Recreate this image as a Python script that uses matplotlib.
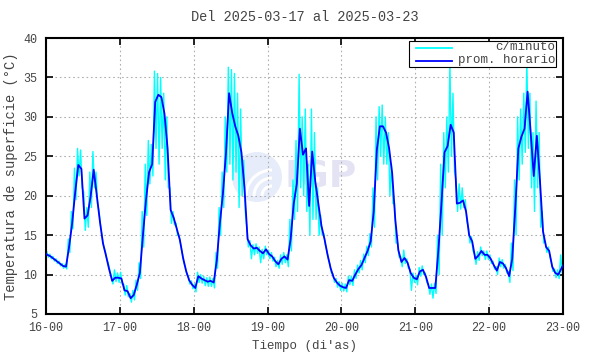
import numpy as np
import matplotlib
matplotlib.use("Agg")
import matplotlib.pyplot as plt
from matplotlib.patches import Rectangle, Circle, Arc
from matplotlib.lines import Line2D

plt.rcParams['font.family'] = ['Liberation Mono', 'DejaVu Sans Mono']

# promedio horario (valor centrado en hh:30), un dia por lista
h16 = [12.5, 12.3, 12.0, 11.7, 11.4, 11.1, 11.0, 13.5, 16.5, 20.5, 23.9, 23.4,
       17.1, 17.5, 19.9, 23.3, 20.0, 16.8, 14.0, 12.4, 10.7, 9.2, 9.6, 9.6]
h17 = [9.5, 8.0, 7.9, 7.0, 7.4, 8.7, 10.2, 15.0, 19.5, 23.0, 24.0, 31.9,
       32.8, 32.5, 30.4, 26.0, 18.2, 17.2, 15.8, 14.4, 12.2, 10.5, 9.3, 8.7]
h18 = [8.3, 9.8, 9.5, 9.3, 9.1, 9.2, 9.0, 11.8, 16.5, 20.3, 25.5, 33.0,
       30.5, 28.8, 27.6, 25.5, 21.0, 14.5, 13.7, 13.3, 13.4, 13.0, 12.7, 13.2]
h19 = [12.6, 12.3, 11.7, 11.3, 12.0, 12.3, 11.9, 14.5, 19.0, 21.5, 28.5, 25.2,
       26.0, 18.7, 25.6, 21.8, 19.0, 16.2, 14.5, 12.5, 10.8, 9.6, 9.0, 8.6]
h20 = [8.4, 8.3, 9.3, 9.2, 10.0, 10.7, 11.2, 12.1, 13.0, 14.2, 18.0, 25.8,
       28.8, 28.8, 28.0, 26.0, 22.8, 17.0, 13.1, 11.6, 12.1, 11.5, 10.2, 9.6]
h21 = [9.4, 10.4, 10.6, 9.7, 8.3, 8.3, 8.3, 13.0, 19.0, 25.5, 26.3, 29.0,
       28.0, 19.0, 19.1, 19.4, 18.0, 15.0, 14.2, 12.0, 12.4, 13.0, 12.5, 12.5]
h22 = [12.0, 11.2, 10.5, 11.6, 11.4, 10.8, 9.8, 12.0, 18.5, 26.0, 27.5, 28.5,
       33.2, 28.0, 22.5, 27.6, 22.0, 15.5, 13.5, 13.0, 11.0, 10.2, 10.0, 10.8]
h_prev = 12.7   # 15 23:30
h_next = 11.5   # 23 00:30

# datos por minuto: maximo y minimo dentro de cada hora
max16 = [12.9, 12.6, 12.3, 12.0, 11.7, 11.4, 11.3, 14.5, 18.0, 23.5, 26.0, 25.8,
         20.5, 18.5, 23.0, 25.6, 23.0, 18.0, 14.8, 13.0, 11.4, 9.8, 10.6, 10.2]
min16 = [12.2, 12.0, 11.7, 11.4, 11.1, 10.8, 10.7, 12.8, 15.8, 19.5, 22.5, 21.0,
         15.6, 16.0, 18.5, 21.0, 19.0, 16.0, 13.5, 12.0, 10.5, 8.8, 9.1, 9.0]
max17 = [10.3, 8.8, 8.6, 7.6, 8.0, 9.3, 11.5, 18.0, 24.0, 27.0, 26.5, 35.8,
         35.5, 35.0, 33.0, 30.0, 21.0, 18.0, 16.5, 15.0, 12.8, 11.0, 9.8, 9.2]
min17 = [8.8, 7.4, 7.2, 6.5, 6.8, 8.0, 9.5, 13.5, 17.5, 21.5, 22.5, 26.0,
         24.0, 26.0, 22.0, 21.0, 16.5, 16.3, 15.0, 13.8, 11.5, 10.0, 8.8, 8.2]
max18 = [8.8, 10.3, 10.0, 9.8, 9.6, 9.7, 9.5, 12.8, 18.5, 23.0, 30.0, 36.3,
         36.0, 35.5, 33.0, 31.0, 24.5, 16.0, 14.3, 13.8, 13.9, 13.5, 13.2, 13.6]
min18 = [7.8, 9.0, 8.9, 8.6, 8.5, 8.5, 8.3, 10.8, 15.0, 18.5, 23.0, 24.0,
         22.0, 23.0, 18.5, 20.0, 18.0, 13.5, 12.0, 12.5, 12.7, 11.5, 12.0, 12.5]
max19 = [13.1, 12.8, 12.2, 11.8, 12.5, 12.8, 12.5, 17.0, 22.0, 27.0, 35.4, 30.0,
         31.0, 24.0, 31.0, 28.0, 21.0, 17.5, 15.2, 13.0, 11.3, 10.1, 9.5, 9.1]
min19 = [12.0, 11.7, 11.0, 10.8, 11.3, 11.5, 11.0, 13.0, 17.0, 18.0, 21.0, 20.0,
         18.0, 15.0, 17.0, 17.0, 15.0, 15.0, 13.8, 12.0, 10.2, 9.0, 8.4, 8.0]
max20 = [8.9, 8.8, 9.8, 9.8, 10.6, 11.2, 11.8, 12.6, 13.6, 15.2, 21.0, 30.0,
         31.3, 31.5, 30.0, 28.0, 24.0, 19.0, 14.0, 12.3, 13.1, 12.0, 10.7, 10.2]
min20 = [7.9, 7.8, 8.7, 8.6, 9.5, 10.2, 10.6, 11.5, 12.4, 13.5, 16.0, 22.0,
         25.0, 24.0, 24.0, 20.0, 19.0, 14.0, 12.2, 11.0, 11.4, 10.8, 8.0, 9.0]
max21 = [9.9, 10.9, 11.1, 10.2, 8.8, 8.8, 8.9, 15.0, 24.0, 28.0, 30.0, 36.8,
         33.0, 22.0, 21.5, 21.0, 19.5, 16.0, 14.8, 12.6, 12.9, 13.5, 13.0, 13.0]
min21 = [8.7, 9.8, 10.0, 9.0, 7.5, 7.0, 7.6, 10.0, 15.0, 21.0, 23.0, 25.0,
         23.0, 18.0, 18.3, 18.5, 16.8, 14.0, 13.0, 11.3, 11.8, 12.4, 11.9, 11.9]
max22 = [12.5, 11.7, 11.0, 12.1, 11.9, 11.3, 10.4, 14.0, 22.0, 30.0, 31.0, 33.0,
         37.0, 33.0, 28.0, 32.0, 28.0, 18.0, 14.2, 13.5, 11.5, 10.7, 10.6, 12.5]
min22 = [11.4, 10.7, 10.0, 11.0, 10.8, 10.2, 9.0, 10.5, 15.0, 22.0, 24.0, 25.5,
         26.0, 21.0, 18.0, 21.0, 16.0, 14.0, 12.8, 12.3, 10.4, 9.6, 9.5, 10.2]

day_labels = ['16-00', '17-00', '18-00', '19-00', '20-00', '21-00', '22-00', '23-00']

hourly = [h_prev] + h16 + h17 + h18 + h19 + h20 + h21 + h22 + [h_next]
t_hour = (np.arange(len(hourly)) - 0.5) / 24.0

mx = np.array(max16 + max17 + max18 + max19 + max20 + max21 + max22)
mn = np.array(min16 + min17 + min18 + min19 + min20 + min21 + min22)
n = len(mx)
t_min = np.empty(2 * n)
v_min = np.empty(2 * n)
t_min[0::2] = (np.arange(n) + 0.25) / 24.0
t_min[1::2] = (np.arange(n) + 0.75) / 24.0
v_min[0::2] = mx
v_min[1::2] = mn

W, H = 590, 354
fig = plt.figure(figsize=(W / 100, H / 100), dpi=100)

# marca de agua IGP (ejes propios en pixeles, detras del grafico)
lg = fig.add_axes([228 / W, 1 - 208 / H, 144 / W, 60 / H], zorder=0)
lg.set_xlim(228, 372)
lg.set_ylim(208, 148)
lg.axis('off')
lg.add_patch(Circle((257, 177), 25, color='#e7ecfa', ec='none'))
for r in (10, 18, 26):
    lg.add_patch(Arc((272, 196), 2 * r, 2 * r, theta1=180, theta2=270,
                     color='white', lw=2.2))
lg.text(285, 178, 'IGP', fontsize=27, fontweight='bold', family='DejaVu Sans',
        color='#e3e3f4', va='center', ha='left')

ax = fig.add_axes([46 / W, 1 - 314 / H, 517 / W, 276 / H], zorder=1)
ax.patch.set_alpha(0)

ax.plot(t_min, v_min, color='#00ffff', lw=1.0, zorder=2)
ax.plot(t_hour, hourly, color='#0000ff', lw=1.3, zorder=3)

ax.set_xlim(0, 7)
ax.set_ylim(5, 40)
ax.set_xticks(np.arange(8))
ax.set_xticklabels(day_labels)
ax.set_yticks(np.arange(5, 41, 5))
ax.grid(True, color='#b0b0b0', ls=(0, (1.5, 2.5)), lw=0.8)
ax.set_axisbelow(True)
ax.tick_params(direction='in', length=5, width=1.2, top=True, right=True,
               labelsize=8.5, labelcolor='#444444', pad=6)
for s in ax.spines.values():
    s.set_linewidth(1.5)

ax.set_xlabel("Tiempo (di'as)", fontsize=9, color='#444444', labelpad=4)
ax.set_ylabel('Temperatura de superficie (°C)', fontsize=9.9, color='#444444',
              labelpad=4)
ax.set_title('Del 2025-03-17 al 2025-03-23', fontsize=9.8, color='#444444', pad=12)

# leyenda
x0, x1 = (409 - 46) / 517, (556 - 46) / 517
y0, y1 = (314 - 67) / 276, (314 - 41) / 276
ax.add_patch(Rectangle((x0, y0), x1 - x0, y1 - y0, transform=ax.transAxes,
                       fc='white', ec='black', lw=0.8, zorder=5))
lx0, lx1 = (416 - 46) / 517, (452 - 46) / 517
for ypix, col, lab in ((47.5, '#00ffff', 'c/minuto'), (60.5, '#0000ff', 'prom. horario')):
    yy = (314 - ypix) / 276
    ax.add_line(Line2D([lx0, lx1], [yy, yy], transform=ax.transAxes, color=col,
                       lw=1.3, zorder=6))
    ax.text((555 - 46) / 517, yy, lab, transform=ax.transAxes, ha='right',
            va='center', fontsize=9, color='#444444', zorder=6)

fig.savefig('out.png', dpi=100)
